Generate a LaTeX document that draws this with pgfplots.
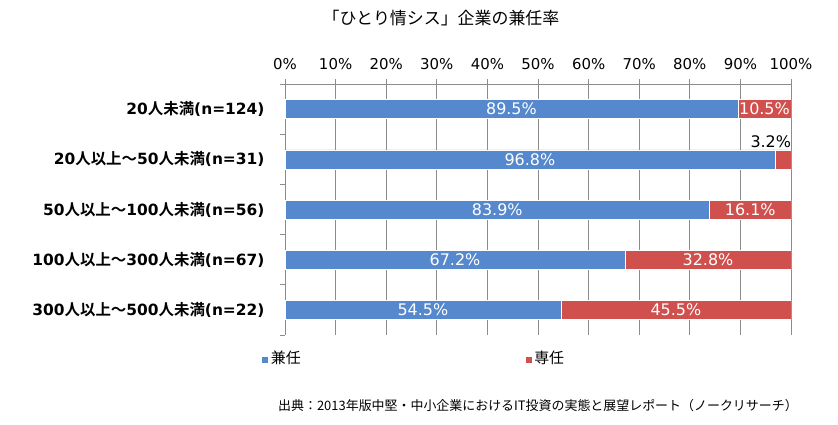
\documentclass[border=0pt]{standalone}
\usepackage{pgfplots}
\pgfplotsset{compat=1.18}
\usepackage{fontspec}
\setmainfont{DejaVu Sans}
\newfontfamily\jp{Noto Sans CJK JP}[BoldFont={Noto Sans CJK JP Bold}]
\definecolor{cBlue}{RGB}{85,136,204}
\definecolor{cRed}{RGB}{208,80,78}
\definecolor{cGrid}{RGB}{140,140,140}
\begin{document}
\begin{tikzpicture}[x=1bp,y=1bp]
\path[use as bounding box] (0,0) rectangle (838,424);
\node at (441,406) {\jp\fontsize{17}{18}\selectfont 「ひとり情シス」企業の兼任率};
\begin{axis}[
  at={(285bp,89bp)}, anchor=south west,
  scale only axis, width=506bp, height=251bp,
  xbar stacked, bar width=19bp,
  xmin=0, xmax=100,
  ymin=-0.5, ymax=4.5, y dir=reverse,
  axis x line*=top, axis y line*=left,
  axis line style={cGrid, line width=0.8bp},
  tick align=outside,
  xtick={0,10,...,100},
  xticklabels={0\%,10\%,20\%,30\%,40\%,50\%,60\%,70\%,80\%,90\%,100\%},
  xticklabel pos=top,
  xticklabel style={font=\fontsize{15}{15}\selectfont, yshift=6bp},
  xmajorgrids, major grid style={cGrid, line width=0.8bp},
  major x tick style={cGrid, line width=0.8bp},
  major tick length=5bp,
  ytick={0,1,2,3,4},
  yticklabels={{20{\jp 人未満}(n=124)},{20{\jp 人以上～}50{\jp 人未満}(n=31)},{50{\jp 人以上～}100{\jp 人未満}(n=56)},{100{\jp 人以上～}300{\jp 人未満}(n=67)},{300{\jp 人以上～}500{\jp 人未満}(n=22)}},
  yticklabel style={font=\bfseries\fontsize{15.5}{16}\selectfont, xshift=-12bp},
  major y tick style={draw=none},
  minor ytick={-0.5,0.5,1.5,2.5,3.5,4.5},
  minor y tick style={cGrid, line width=0.8bp},
  minor tick length=5bp,
  point meta=explicit symbolic,
  nodes near coords={\pgfplotspointmeta},
  every node near coord/.append style={white, font=\fontsize{16}{16}\selectfont},
  legend columns=2,
  legend style={draw=none, fill=none, at={(-0.047,-0.092)}, anchor=west,
    font=\jp\fontsize{15}{15}\selectfont, inner sep=0pt,
    /tikz/every even column/.append style={column sep=222bp}},
  legend image code/.code={\fill[#1] (0bp,-5bp) rectangle (7bp,2bp);},
]
\addplot[fill=cBlue, draw=white, line width=0.5bp] coordinates {
  (89.5,0) [89.5\%]
  (96.8,1) [96.8\%]
  (83.9,2) [83.9\%]
  (67.2,3) [67.2\%]
  (54.5,4) [54.5\%]
};
\addlegendentry{兼任}
\addplot[fill=cRed, draw=white, line width=0.5bp] coordinates {
  (10.5,0) [10.5\%]
  (3.2,1) [\mbox{}]
  (16.1,2) [16.1\%]
  (32.8,3) [32.8\%]
  (45.5,4) [45.5\%]
};
\addlegendentry{専任}
\node[black, font=\fontsize{16}{16}\selectfont] at (axis cs:96,0.64) {3.2\%};
\end{axis}
\node[anchor=west, inner sep=0pt] at (278,18) {\jp\fontsize{13}{13}\selectfont 出典：2013年版中堅・中小企業におけるIT投資の実態と展望レポート（ノークリサーチ）};
\end{tikzpicture}
\end{document}
